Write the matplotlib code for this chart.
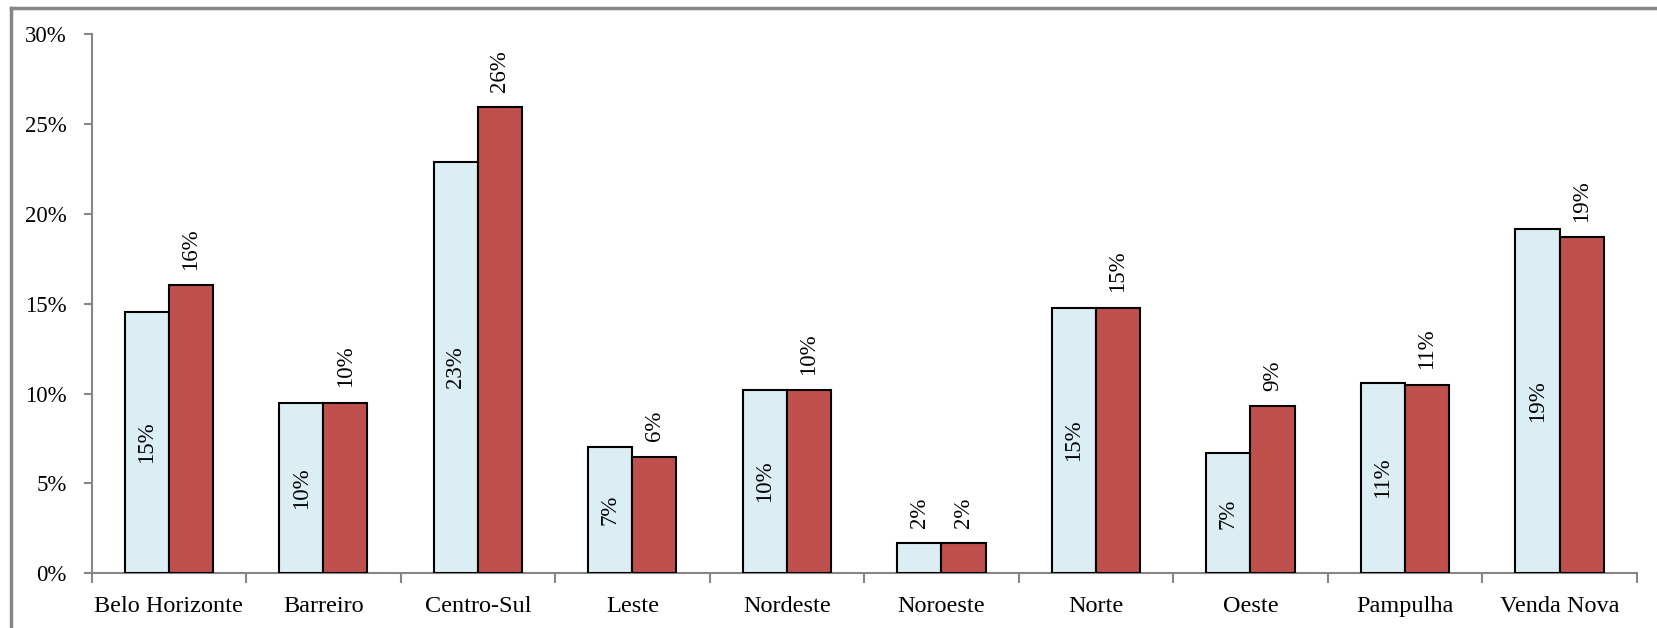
import numpy as np
import matplotlib
matplotlib.use('Agg')
import matplotlib.pyplot as plt
from matplotlib.lines import Line2D
from matplotlib.ticker import PercentFormatter

plt.rcParams['font.family'] = ['Liberation Serif', 'DejaVu Serif']

regioes = ['Belo Horizonte', 'Barreiro', 'Centro-Sul', 'Leste', 'Nordeste',
           'Noroeste', 'Norte', 'Oeste', 'Pampulha', 'Venda Nova']
serie_a = [14.55, 9.5, 22.9, 7.03, 10.2, 1.67, 14.79, 6.67, 10.6, 19.18]
serie_b = [16.03, 9.5, 25.93, 6.5, 10.2, 1.67, 14.79, 9.32, 10.5, 18.7]
# valores arredondados exibidos nos rótulos
rot_a = ['15%', '10%', '23%', '7%', '10%', '2%', '15%', '7%', '11%', '19%']
rot_b = ['16%', '10%', '26%', '6%', '10%', '2%', '15%', '9%', '11%', '19%']

AZUL = '#DAEEF3'; VERM = '#C0504D'; CINZA = '#868686'

fig = plt.figure(figsize=(16.57, 6.28), dpi=100)
ax = fig.add_axes([0.0553, 0.0871, 0.9325, 0.8583])

x = np.arange(len(regioes))
w = 0.285
ax.bar(x - w/2, serie_a, w, color=AZUL, edgecolor='black', lw=1.5, zorder=3)
ax.bar(x + w/2, serie_b, w, color=VERM, edgecolor='black', lw=1.5, zorder=3)

# rótulos: série azul dentro da barra (exceto quando a barra é muito baixa)
for xi, v, t in zip(x, serie_a, rot_a):
    if v > 4:
        ax.text(xi - w/2, v/2, t, rotation=90, ha='center', va='center', fontsize=16.5)
    else:
        ax.annotate(t, (xi - w/2, v), xytext=(0, 11), textcoords='offset points',
                    rotation=90, ha='center', va='bottom', fontsize=16.5)
for xi, v, t in zip(x, serie_b, rot_b):
    ax.annotate(t, (xi + w/2, v), xytext=(0, 11), textcoords='offset points',
                rotation=90, ha='center', va='bottom', fontsize=16.5)

ax.set_xlim(-0.5, len(regioes) - 0.5)
ax.set_ylim(0, 30)
ax.set_yticks(np.arange(0, 31, 5))
ax.yaxis.set_major_formatter(PercentFormatter(decimals=0))
ax.set_xticks(x)
ax.set_xticklabels(regioes, fontsize=17.5)
ax.set_xticks(np.arange(-0.5, len(regioes)), minor=True)
ax.tick_params(axis='x', which='major', length=0, pad=16)
ax.tick_params(axis='x', which='minor', length=7, width=1.5, color=CINZA, direction='out')
ax.tick_params(axis='y', length=6, width=1.5, color=CINZA, pad=12, labelsize=16.5)

for s in ['top', 'right']:
    ax.spines[s].set_visible(False)
for s in ['left', 'bottom']:
    ax.spines[s].set_color(CINZA)
    ax.spines[s].set_linewidth(1.5)

# moldura do gráfico (só aparecem as bordas superior e esquerda)
fig.add_artist(Line2D([11/1657, 11/1657], [0, 1 - 8/628], color=CINZA, lw=2.5,
                      transform=fig.transFigure))
fig.add_artist(Line2D([11/1657, 1], [1 - 8/628, 1 - 8/628], color=CINZA, lw=2.5,
                      transform=fig.transFigure))

fig.savefig('out.png', dpi=100)
